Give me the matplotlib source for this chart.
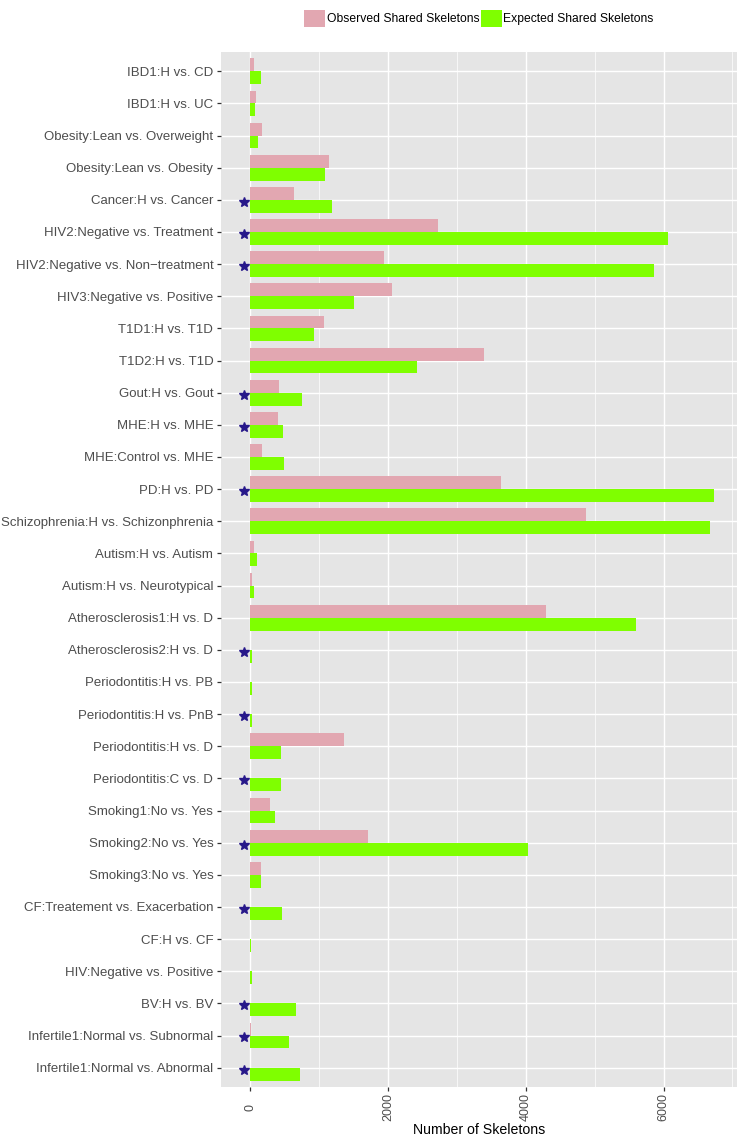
import matplotlib
matplotlib.use('Agg')

import matplotlib.pyplot as plt
from matplotlib.patches import Patch
from matplotlib.ticker import MultipleLocator
import numpy as np

plt.rcParams['font.family'] = ['Liberation Sans', 'DejaVu Sans']

# comparisons, top to bottom
comparisons = [
    'IBD1:H vs. CD', 'IBD1:H vs. UC', 'Obesity:Lean vs. Overweight',
    'Obesity:Lean vs. Obesity', 'Cancer:H vs. Cancer',
    'HIV2:Negative vs. Treatment', 'HIV2:Negative vs. Non\u2212treatment',
    'HIV3:Negative vs. Positive', 'T1D1:H vs. T1D', 'T1D2:H vs. T1D',
    'Gout:H vs. Gout', 'MHE:H vs. MHE', 'MHE:Control vs. MHE', 'PD:H vs. PD',
    'Schizophrenia:H vs. Schizonphrenia', 'Autism:H vs. Autism',
    'Autism:H vs. Neurotypical', 'Atherosclerosis1:H vs. D',
    'Atherosclerosis2:H vs. D', 'Periodontitis:H vs. PB',
    'Periodontitis:H vs. PnB', 'Periodontitis:H vs. D', 'Periodontitis:C vs. D',
    'Smoking1:No vs. Yes', 'Smoking2:No vs. Yes', 'Smoking3:No vs. Yes',
    'CF:Treatement vs. Exacerbation', 'CF:H vs. CF', 'HIV:Negative vs. Positive',
    'BV:H vs. BV', 'Infertile1:Normal vs. Subnormal',
    'Infertile1:Normal vs. Abnormal',
]

observed = [53, 87, 169, 1137, 629, 2719, 1940, 2051, 1064, 3396, 411, 397,
            174, 3633, 4867, 48, 29, 4295, 0, 0, 0, 1353, 0, 280, 1715, 155,
            0, 0, 0, 0, 5, 0]
expected = [150, 63, 116, 1079, 1190, 6067, 5864, 1500, 929, 2414, 755, 474,
            493, 6725, 6671, 92, 48, 5594, 29, 24, 24, 444, 440, 357, 4034,
            150, 461, 15, 29, 660, 568, 718]

# comparisons flagged with a star
significant = [False, False, False, False, True, True, True, False, False,
               False, True, True, False, True, False, False, False, False,
               True, False, True, False, True, False, True, False, True,
               False, False, True, True, True]
star_x = -85

pink = '#E2A7B1'
green = '#7FFF00'

fig = plt.figure(figsize=(7.39, 11.41), dpi=100)
ax = fig.add_axes([221 / 739, 54 / 1141, 516 / 739, 1035 / 1141])
ax.set_facecolor('#E5E5E5')

y = np.arange(len(comparisons))
bar_h = 0.4
ax.barh(y - bar_h / 2, observed, height=bar_h, color=pink, zorder=2)
ax.barh(y + bar_h / 2, expected, height=bar_h, color=green, zorder=2)

sig_y = y[np.array(significant)]
ax.plot(np.full(len(sig_y), star_x), sig_y + 0.06, linestyle='none',
        marker='*', markersize=7, color='#27188A', zorder=3)

# ggplot-like limits: 5% expansion on x, 0.6 units on discrete y
lo, hi = star_x, max(max(observed), max(expected))
pad = 0.05 * (hi - lo)
ax.set_xlim(lo - pad, hi + pad)
ax.set_ylim(len(comparisons) - 1 + 0.6, -0.6)

ax.set_yticks(y)
ax.set_yticklabels(comparisons)
ax.set_xticks([0, 2000, 4000, 6000])
ax.xaxis.set_minor_locator(MultipleLocator(1000))

ax.grid(which='major', color='white', linewidth=1.0, zorder=1)
ax.grid(which='minor', axis='x', color='white', linewidth=0.5, zorder=1)
ax.set_axisbelow(True)

for s in ax.spines.values():
    s.set_visible(False)

ax.tick_params(axis='y', which='major', length=3, width=0.9, color='#333333',
               labelsize=9.5, labelcolor='#4D4D4D', pad=2.5)
ax.tick_params(axis='x', which='major', length=3, width=0.9, color='#333333',
               labelsize=9, labelcolor='#4D4D4D', pad=11.5)
ax.tick_params(axis='x', which='minor', length=0)
for lab in ax.get_xticklabels():
    lab.set_rotation(90)
    lab.set_va('center')
    lab.set_ha('center')

ax.set_xlabel('Number of Skeletons', fontsize=10.2, color='black')
ax.xaxis.set_label_coords(0.5, -0.0415)
ax.xaxis.label.set_va('center')

handles = [Patch(facecolor=pink, edgecolor='none', label='Observed Shared Skeletons'),
           Patch(facecolor=green, edgecolor='none', label='Expected Shared Skeletons')]
fig.legend(handles=handles, loc='center', bbox_to_anchor=(479 / 739, 1 - 18.5 / 1141),
           ncol=2, frameon=False, fontsize=8.7, handlelength=1.72,
           handleheight=1.72, handletextpad=0.15, columnspacing=0.1,
           borderpad=0, borderaxespad=0)

fig.savefig('out.png', dpi=100, facecolor='white')
plt.close(fig)
